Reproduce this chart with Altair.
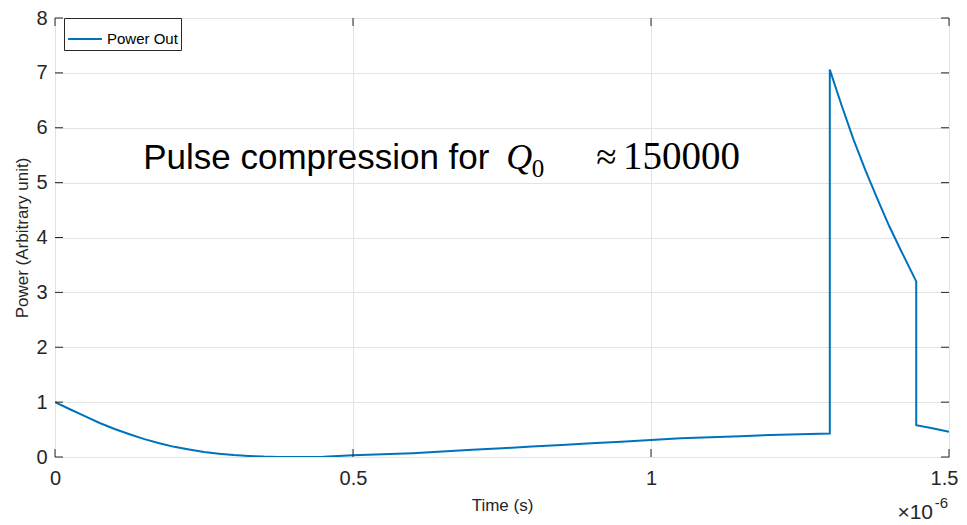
import altair as alt
import pandas as pd

# ---- data (time in units of 1e-6 s) ----
time_us = [0.0, 0.025, 0.05, 0.075, 0.1, 0.125, 0.15, 0.175, 0.2, 0.225, 0.25, 0.275,
           0.3, 0.325, 0.35, 0.375, 0.4, 0.425, 0.45, 0.5, 0.55, 0.6, 0.65, 0.7, 0.75,
           0.8, 0.85, 0.9, 0.95, 1.0, 1.05, 1.1, 1.15, 1.2, 1.25, 1.3,
           1.3, 1.32, 1.34, 1.36, 1.38, 1.40, 1.42, 1.445,
           1.445, 1.47, 1.5]
power = [1.0, 0.87, 0.745, 0.62, 0.51, 0.415, 0.325, 0.25, 0.185, 0.135, 0.09, 0.06,
         0.035, 0.018, 0.007, 0.002, 0.0, 0.002, 0.006, 0.03, 0.05, 0.07, 0.10, 0.13, 0.16,
         0.19, 0.22, 0.25, 0.28, 0.31, 0.34, 0.36, 0.38, 0.40, 0.415, 0.43,
         7.06, 6.40, 5.78, 5.22, 4.70, 4.20, 3.75, 3.20,
         0.58, 0.53, 0.46]
series_name = "Power Out"

x_ticks = [0, 0.5, 1.0, 1.5]
y_ticks = [0, 1, 2, 3, 4, 5, 6, 7, 8]

ann_text = ["Pulse compression for", "Q", "0", "\u2248", "150000"]
ann_x = [0.148, 0.757, 0.80, 0.908, 0.953]
ann_y = [5.25, 5.25, 5.10, 5.25, 5.25]

W, H = 894, 439
BLUE = "#0072BD"
TXT = "#262626"
AX = "#7f7f7f"

df = pd.DataFrame({"t": time_us, "p": power, "order": list(range(len(time_us))),
                   "series": [series_name] * len(time_us)})

xscale = alt.Scale(domain=[0, 1.5], nice=False, zero=False)
yscale = alt.Scale(domain=[0, 8], nice=False)

x_axis = alt.Axis(values=x_ticks, format="~g", title="Time (s)", grid=True,
                  domain=False, ticks=False, labelPadding=11, titlePadding=9,
                  labelFontSize=20, titleFontSize=17, labelFlush=False,
                  labelOffset={"condition": {"test": "datum.value >= 1.5", "value": -5},
                               "value": 0})
y_axis = alt.Axis(values=y_ticks, format="d", title="Power (Arbitrary unit)", grid=True,
                  domain=False, ticks=False, labelPadding=8, titlePadding=4,
                  labelFontSize=20, titleFontSize=17)


def X(field):
    return alt.X(field, scale=xscale, axis=x_axis, title="Time (s)")


def Y(field):
    return alt.Y(field, scale=yscale, axis=y_axis, title="Power (Arbitrary unit)")


line = alt.Chart(df).mark_line(strokeWidth=2, clip=True).encode(
    x=X("t:Q"),
    y=Y("p:Q"),
    order="order:Q",
    color=alt.Color("series:N", scale=alt.Scale(domain=[series_name], range=[BLUE]),
                    legend=alt.Legend(title=None, orient="none", legendX=9, legendY=0,
                                      fillColor="white", strokeColor=TXT, padding=3,
                                      symbolType="stroke", symbolSize=1150,
                                      symbolStrokeWidth=2, labelFontSize=15,
                                      labelOffset=4, labelColor="black")),
)

yt = pd.DataFrame({"v": y_ticks})
xt = pd.DataFrame({"v": x_ticks})
tick_style = dict(color="#262626", strokeWidth=1)

ytl = alt.Chart(yt).mark_rule(**tick_style).encode(
    y=Y("v:Q"), x=alt.value(0), x2=alt.value(8))
ytr = alt.Chart(yt).mark_rule(**tick_style).encode(
    y=Y("v:Q"), x=alt.value(W - 8), x2=alt.value(W))
xtb = alt.Chart(xt).mark_rule(**tick_style).encode(
    x=X("v:Q"), y=alt.value(H - 8), y2=alt.value(H))
xtt = alt.Chart(xt).mark_rule(**tick_style).encode(
    x=X("v:Q"), y=alt.value(0), y2=alt.value(8))

ann = pd.DataFrame({"txt": ann_text, "x": ann_x, "y": ann_y})


def ann_layer(i, font, size, style="normal"):
    return alt.Chart(ann.iloc[[i]]).mark_text(
        align="left", baseline="alphabetic", font=font, fontSize=size,
        fontStyle=style, color="black").encode(
        x=X("x:Q"), y=Y("y:Q"), text="txt:N")


t1 = ann_layer(0, "Liberation Sans", 35)
t2 = ann_layer(1, "Liberation Serif", 36, "italic")
t3 = ann_layer(2, "Liberation Serif", 25)
t4 = ann_layer(3, "Liberation Serif", 37)
t5 = ann_layer(4, "Liberation Serif", 39)

expo = pd.DataFrame({"txt": ["\u00d710", "-6"], "x": [1.5, 1.5]})
e1 = alt.Chart(expo.iloc[[0]]).mark_text(
    align="right", baseline="alphabetic", font="Liberation Sans", fontSize=21,
    color=TXT, dx=-16).encode(
    x=X("x:Q"), y=alt.value(H + 62), text="txt:N")
e2 = alt.Chart(expo.iloc[[1]]).mark_text(
    align="right", baseline="alphabetic", font="Liberation Sans", fontSize=15,
    color=TXT, dx=-1).encode(
    x=X("x:Q"), y=alt.value(H + 51), text="txt:N")

chart = alt.layer(line, ytl, ytr, xtb, xtt, t1, t2, t3, t4, t5, e1, e2).properties(
    width=W, height=H,
    padding={"left": 47, "top": 10, "right": 10, "bottom": 68},
    autosize=alt.AutoSizeParams(type="none"),
).configure_view(stroke=AX, strokeWidth=1).configure_axis(
    labelColor=TXT, titleColor=TXT, labelFont="Liberation Sans", titleFont="Liberation Sans",
    titleFontWeight="normal", gridColor="#e3e3e3", gridWidth=1,
).configure_legend(labelFont="Liberation Sans")

chart.save("out.html", embed_options={"renderer": "svg", "actions": False})
